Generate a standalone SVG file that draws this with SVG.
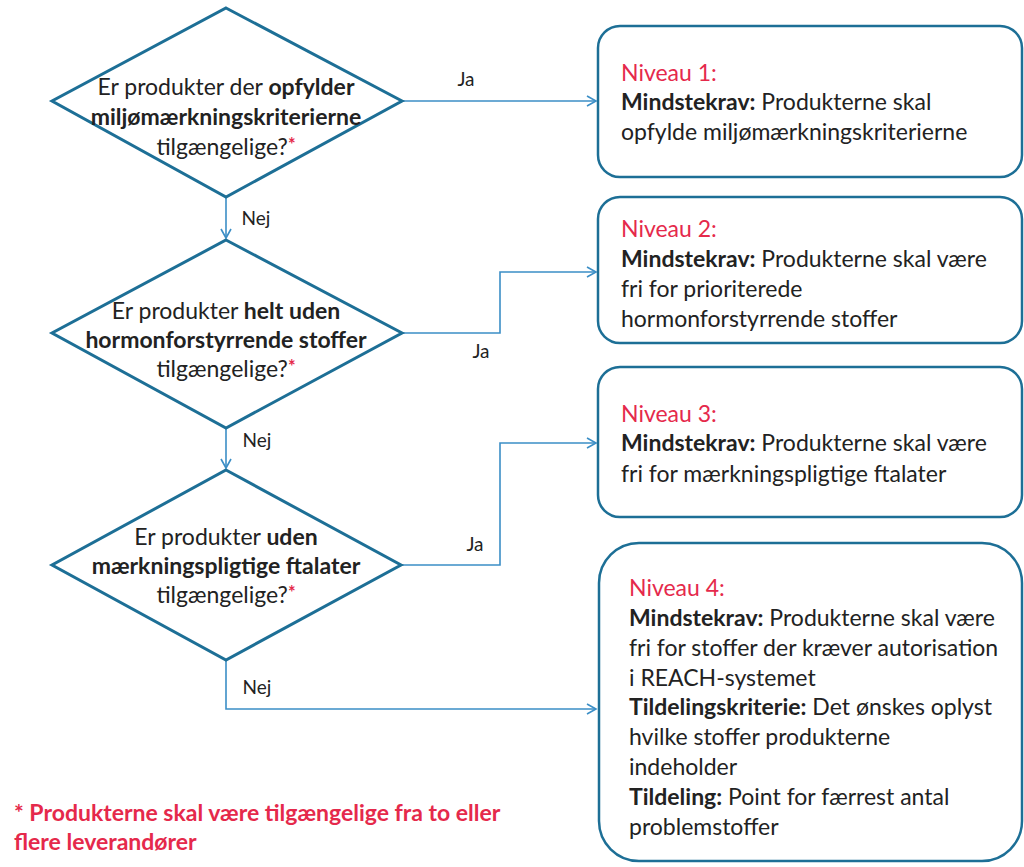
<svg xmlns="http://www.w3.org/2000/svg" width="1024" height="867" viewBox="0 0 1024 867">
<defs>
<style>
.dia{fill:#fff;stroke:#1d6f96;stroke-width:3}
.box{fill:#fff;stroke:#1d6f96;stroke-width:2.5}
.con{fill:none;stroke:#3b8ec6;stroke-width:1.6}
text{font-family:Lato,"Open Sans","Liberation Sans",sans-serif;font-size:23px;fill:#222}
.b{font-weight:bold}
.red{fill:#e5294b}
.c{text-anchor:middle}
.lbl{font-size:19px}
.ast{fill:#e5294b;font-size:18px;font-weight:bold}
</style>
<marker id="arr" markerWidth="12" markerHeight="12" refX="10" refY="6" orient="auto" markerUnits="userSpaceOnUse">
<path d="M1,1 L10,6 L1,11" fill="none" stroke="#3b8ec6" stroke-width="1.6"/>
</marker>
</defs>
<rect width="1024" height="867" fill="#fff"/>
<g id="connectors">
<path class="con" d="M402,101 H596" marker-end="url(#arr)"/>
<path class="con" d="M226,197 V238" marker-end="url(#arr)"/>
<path class="con" d="M402,333 H500 V272 H596" marker-end="url(#arr)"/>
<path class="con" d="M226,428 V468" marker-end="url(#arr)"/>
<path class="con" d="M402,565 H500 V443 H596" marker-end="url(#arr)"/>
<path class="con" d="M226,660 V709 H596" marker-end="url(#arr)"/>
<text class="lbl c" x="466" y="86">Ja</text>
<text class="lbl c" x="256" y="225">Nej</text>
<text class="lbl c" x="481" y="358">Ja</text>
<text class="lbl c" x="257" y="447">Nej</text>
<text class="lbl c" x="475" y="551">Ja</text>
<text class="lbl c" x="257" y="694">Nej</text>
</g>
<g id="d1">
<polygon class="dia" points="226,8 402,101 226,197 52,101"/>
<text class="c" x="226" y="95">Er produkter der <tspan class="b">opfylder</tspan></text>
<text class="c b" x="226" y="125">miljømærkningskriterierne</text>
<text class="c" x="226" y="155">tilgængelige?<tspan class="ast" dy="-4">*</tspan></text>
</g>
<g id="d2">
<polygon class="dia" points="226,240 402,333 226,428 52,333"/>
<text class="c" x="226" y="319">Er produkter <tspan class="b">helt uden</tspan></text>
<text class="c b" x="226" y="348">hormonforstyrrende stoffer</text>
<text class="c" x="226" y="377">tilgængelige?<tspan class="ast" dy="-4">*</tspan></text>
</g>
<g id="d3">
<polygon class="dia" points="226,470 401,565 226,660 52,565"/>
<text class="c" x="226" y="545">Er produkter <tspan class="b">uden</tspan></text>
<text class="c b" x="226" y="574">mærkningspligtige ftalater</text>
<text class="c" x="226" y="603">tilgængelige?<tspan class="ast" dy="-4">*</tspan></text>
</g>
<g id="n1">
<rect class="box" x="598" y="26" width="424" height="151" rx="22"/>
<text class="red" x="621" y="81">Niveau 1:</text>
<text x="621" y="110"><tspan class="b">Mindstekrav:</tspan> Produkterne skal</text>
<text x="621" y="140">opfylde miljømærkningskriterierne</text>
</g>
<g id="n2">
<rect class="box" x="598" y="197" width="424" height="146" rx="22"/>
<text class="red" x="621" y="237">Niveau 2:</text>
<text x="621" y="267"><tspan class="b">Mindstekrav:</tspan> Produkterne skal være</text>
<text x="621" y="297">fri for prioriterede</text>
<text x="621" y="327">hormonforstyrrende stoffer</text>
</g>
<g id="n3">
<rect class="box" x="598" y="367" width="424" height="150" rx="22"/>
<text class="red" x="621" y="422">Niveau 3:</text>
<text x="621" y="451"><tspan class="b">Mindstekrav:</tspan> Produkterne skal være</text>
<text x="621" y="482">fri for mærkningspligtige ftalater</text>
</g>
<g id="n4">
<rect class="box" x="599" y="543" width="423" height="318" rx="40"/>
<text class="red" x="629" y="596">Niveau 4:</text>
<text x="629" y="626"><tspan class="b">Mindstekrav:</tspan> Produkterne skal være</text>
<text x="629" y="656">fri for stoffer der kræver autorisation</text>
<text x="629" y="686">i REACH-systemet</text>
<text x="629" y="715"><tspan class="b">Tildelingskriterie:</tspan> Det ønskes oplyst</text>
<text x="629" y="745">hvilke stoffer produkterne</text>
<text x="629" y="775">indeholder</text>
<text x="629" y="805"><tspan class="b">Tildeling:</tspan> Point for færrest antal</text>
<text x="629" y="835">problemstoffer</text>
</g>
<g id="footnote">
<text class="red b" x="14" y="821">* Produkterne skal være tilgængelige fra to eller</text>
<text class="red b" x="14" y="850">flere leverandører</text>
</g>
</svg>
